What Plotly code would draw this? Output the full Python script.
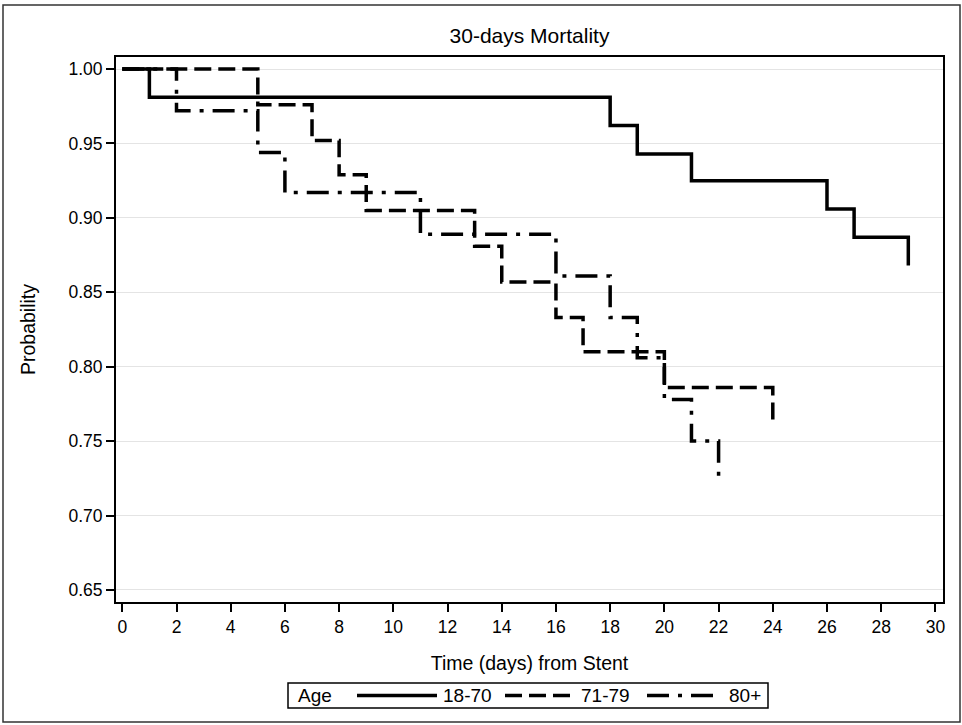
import plotly.graph_objects as go

# ---- data (Kaplan-Meier step curves) ----
groups = ["18-70", "71-79", "80+"]

t_18_70 = [0, 1, 18, 19, 21, 26, 27, 29]
s_18_70 = [1.000, 0.981, 0.962, 0.943, 0.925, 0.906, 0.887, 0.868]

t_71_79 = [0, 5, 7, 8, 9, 13, 14, 16, 17, 20, 24]
s_71_79 = [1.000, 0.976, 0.952, 0.929, 0.905, 0.881, 0.857, 0.833, 0.810, 0.786, 0.762]

t_80p = [0, 2, 5, 6, 11, 16, 18, 19, 20, 21, 22]
s_80p = [1.000, 0.972, 0.944, 0.917, 0.889, 0.861, 0.833, 0.806, 0.778, 0.750, 0.722]

x_ticks = list(range(0, 31, 2))
y_ticks = [0.65, 0.70, 0.75, 0.80, 0.85, 0.90, 0.95, 1.00]

title_text = "30-days Mortality"
x_title = "Time (days) from Stent"
y_title = "Probability"
legend_title = "Age"

# ---- styles ----
FONT = "Liberation Sans, Arial, sans-serif"
dashes = ["solid", "17px,7px", "22px,9px,4px,9px"]
series = [(t_18_70, s_18_70), (t_71_79, s_71_79), (t_80p, s_80p)]

fig = go.Figure()
for name, (t, s), d in zip(groups, series, dashes):
    fig.add_trace(go.Scatter(
        x=t, y=s, name=name, mode="lines", line_shape="hv",
        line=dict(color="black", width=3.5, dash=d), showlegend=False,
    ))

L, R, T, B = 116, 19, 57, 123
W, H = 962, 725
PW, PH = W - L - R, H - T - B


def px_x(p):
    return (p - L) / PW


def px_y(p):
    return (H - B - p) / PH


shapes = []
annotations = []
# outer frame
shapes.append(dict(type="rect", xref="paper", yref="paper",
                   x0=px_x(3), x1=px_x(960), y0=px_y(722), y1=px_y(5),
                   line=dict(color="#333", width=1.5), layer="below"))
# custom legend box
shapes.append(dict(type="rect", xref="paper", yref="paper",
                   x0=px_x(288), x1=px_x(768), y0=px_y(708), y1=px_y(683),
                   line=dict(color="black", width=1.5)))
ly = px_y(695.5)
annotations.append(dict(text=legend_title, xref="paper", yref="paper",
                        x=px_x(296), y=ly, xanchor="left", yanchor="middle",
                        showarrow=False, font=dict(family=FONT, size=19, color="black")))
leg_lines = [(357, 437), (505, 570), (647, 721)]
leg_text_x = [441, 579, 727]
for name, d, (a, b), tx in zip(groups, dashes, leg_lines, leg_text_x):
    shapes.append(dict(type="line", xref="paper", yref="paper",
                       x0=px_x(a), x1=px_x(b), y0=ly, y1=ly,
                       line=dict(color="black", width=3.5, dash=d)))
    annotations.append(dict(text=name, xref="paper", yref="paper",
                            x=px_x(tx), y=ly, xanchor="left", yanchor="middle",
                            showarrow=False, font=dict(family=FONT, size=19, color="black")))

fig.update_layout(
    width=W, height=H,
    margin=dict(l=L, r=R, t=T, b=B),
    paper_bgcolor="white", plot_bgcolor="white",
    font=dict(family=FONT, color="black", size=17),
    title=dict(text=title_text, x=0.5, xref="paper", y=1 - 36 / H, yref="container",
               xanchor="center", yanchor="middle", font=dict(family=FONT, size=21, color="black")),
    shapes=shapes, annotations=annotations,
    showlegend=False,
)
fig.update_xaxes(
    range=[-0.232, 30.28], tickvals=x_ticks, ticktext=[str(v) for v in x_ticks],
    showgrid=False, zeroline=False,
    showline=True, linecolor="black", linewidth=2, mirror=True,
    ticks="outside", ticklen=8, tickwidth=2, tickcolor="black",
    tickfont=dict(family=FONT, size=17.5, color="black"),
    title=dict(text=x_title, standoff=20, font=dict(family=FONT, size=19.5, color="black")),
)
fig.update_yaxes(
    range=[0.6419, 1.0081], tickvals=y_ticks, ticktext=[f"{v:.2f}" for v in y_ticks],
    showgrid=True, gridcolor="#e4e4e4", gridwidth=1, zeroline=False,
    showline=True, linecolor="black", linewidth=2, mirror=True,
    ticks="outside", ticklen=8, tickwidth=2, tickcolor="black",
    tickfont=dict(family=FONT, size=17.5, color="black"),
    title=dict(text=y_title, standoff=28, font=dict(family=FONT, size=19.5, color="black")),
)

fig.write_html("out.html", config={"displayModeBar": False},
               post_script="document.body.style.margin='0';")
